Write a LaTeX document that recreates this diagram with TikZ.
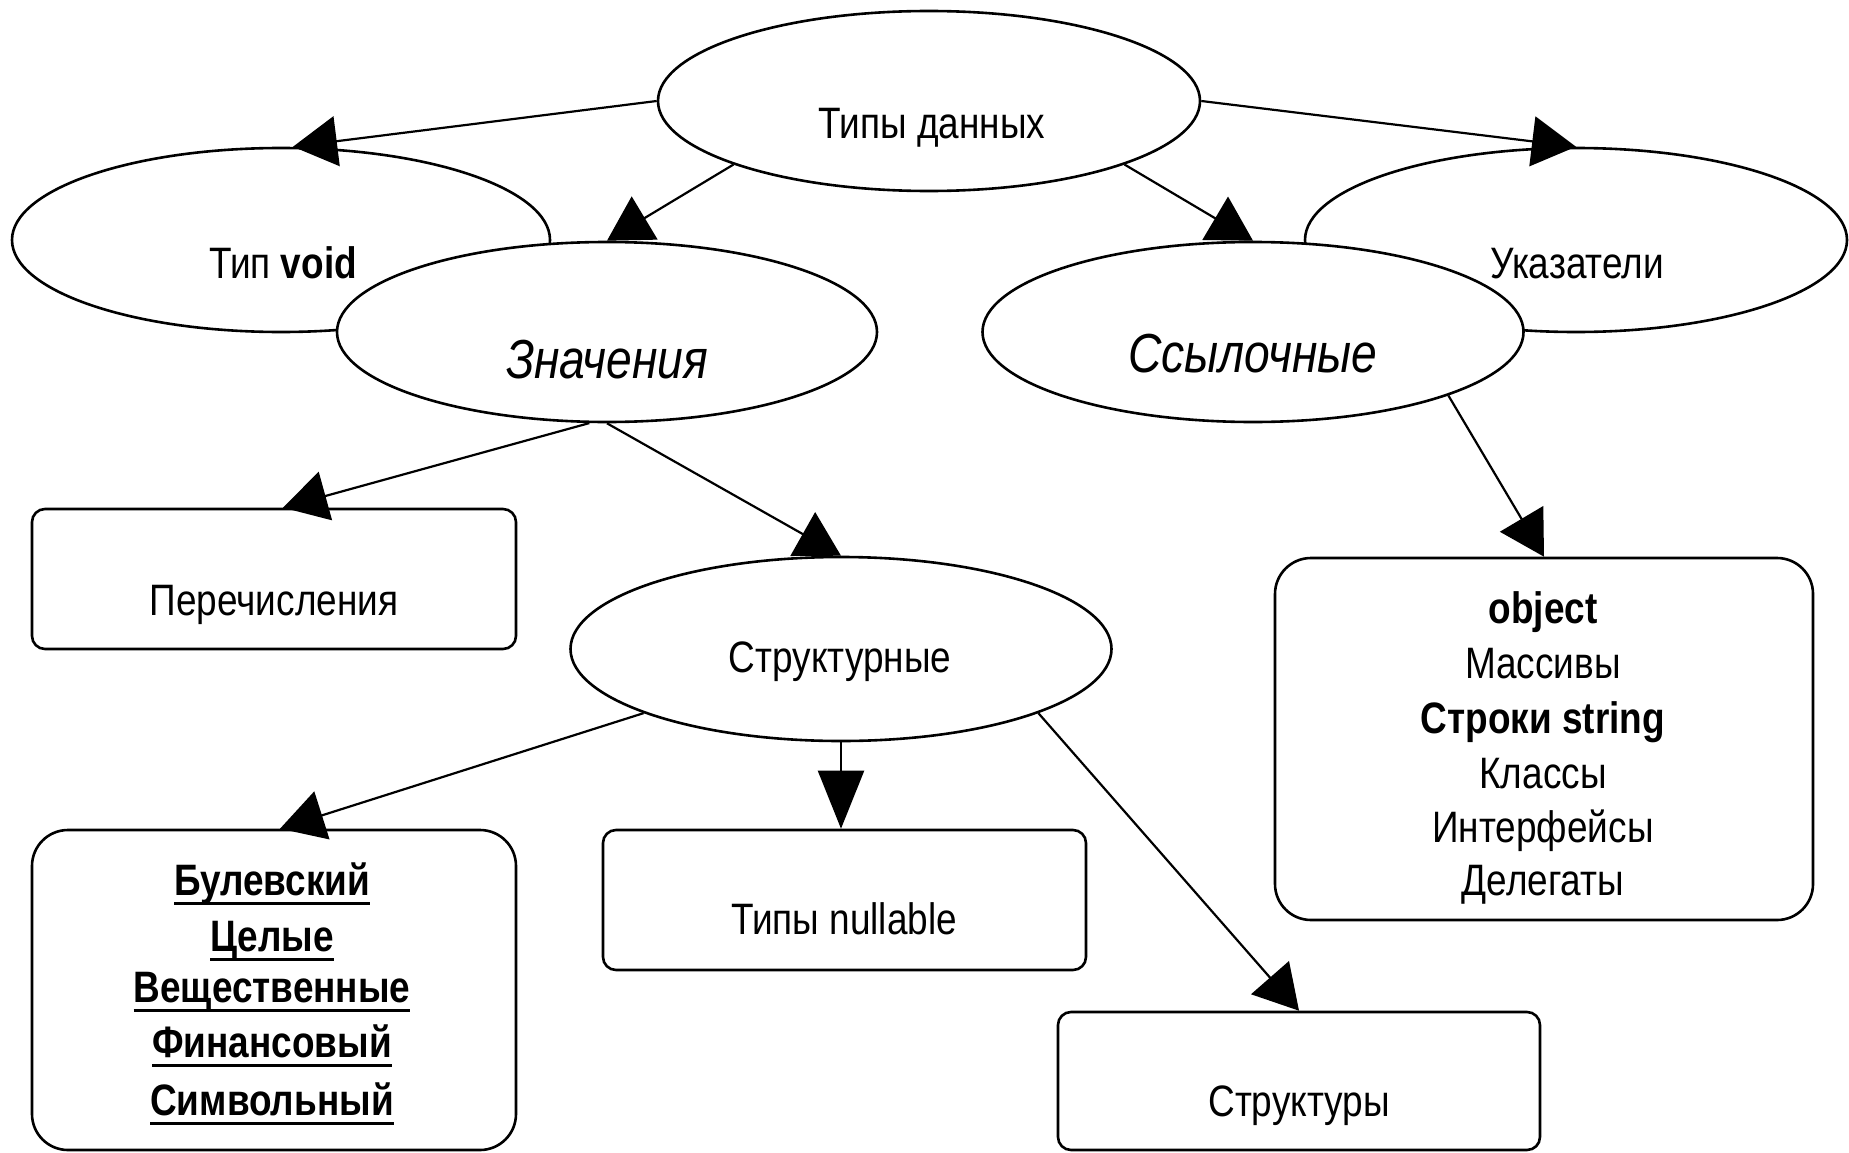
\documentclass[tikz,border=0pt]{standalone}
\usepackage{fontspec}
\newfontfamily\nf{Liberation Sans}[FakeStretch=0.84]
\usetikzlibrary{shapes.geometric,arrows.meta,calc}
\newcommand\myul[1]{\setbox0\hbox{#1}\rlap{\rule[-9.5pt]{\wd0}{3pt}}\box0}
\begin{document}
\begin{tikzpicture}[x=1pt,y=-1pt,
  ell/.style={ellipse, draw, line width=2.6pt, fill=white, inner sep=0pt},
  box/.style={rectangle, draw, line width=2.6pt, fill=white, inner sep=0pt},
  lbl/.style={font=\nf\fontsize{44}{53}\selectfont, inner sep=0pt, anchor=base},
  ilbl/.style={font=\nf\itshape\fontsize{55}{60}\selectfont, inner sep=0pt, anchor=base},
  blbl/.style={font=\nf\bfseries\fontsize{44}{53}\selectfont, inner sep=0pt, anchor=base},
  arr/.style={line width=2.2pt, -{Triangle[length=44pt,width=50pt]}}]
\fill[white] (0,0) rectangle (1849,1153);
\useasboundingbox (0,0) rectangle (1849,1153);

% ellipses (back ones first)
\node[ell, minimum width=542pt, minimum height=180pt] (td) at (929,101) {};
\node[ell, minimum width=538pt, minimum height=184pt] (void) at (281,240) {};
\node[ell, minimum width=542pt, minimum height=184pt] (ukaz) at (1576,240) {};
\node[ell, minimum width=540pt, minimum height=180pt] (zn) at (607,332) {};
\node[ell, minimum width=541pt, minimum height=180pt] (ssyl) at (1253,332) {};
\node[ell, minimum width=541pt, minimum height=184pt] (strukt) at (841,649) {};

% boxes
\node[box, rounded corners=13pt, minimum width=484pt, minimum height=140pt] (perech) at (274,579) {};
\node[box, rounded corners=36pt, minimum width=484pt, minimum height=320pt] (bool) at (274,990) {};
\node[box, rounded corners=13pt, minimum width=483pt, minimum height=140pt] (nullable) at (844.5,900) {};
\node[box, rounded corners=13pt, minimum width=482pt, minimum height=138pt] (struktury) at (1299,1081) {};
\node[box, rounded corners=36pt, minimum width=538pt, minimum height=362pt] (obj) at (1544,739) {};

% labels
\node[lbl] (tdt) at (932,139) {Типы данных};
\node[lbl] (voidt) at (283,278) {Тип \textbf{void}};
\node[lbl] (ukazt) at (1577,278) {Указатели};
\node[ilbl] (znt) at (607,378) {Значения};
\node[ilbl] (ssylt) at (1253,372) {Ссылочные};
\node[lbl] (percht) at (274,615) {Перечисления};
\node[lbl] (struktt) at (840,672) {Структурные};
\node[lbl] (nullt) at (844,934) {Типы nullable};
\node[lbl] (strt) at (1299,1116) {Структуры};

\node[blbl] (o1) at (1543,623) {object};
\node[lbl]  (o2) at (1543,678) {Массивы};
\node[blbl] (o3) at (1543,733) {Строки string};
\node[lbl]  (o4) at (1543,788) {Классы};
\node[lbl]  (o5) at (1543,842) {Интерфейсы};
\node[lbl]  (o6) at (1543,895) {Делегаты};

\node[blbl] (b1) at (272,895) {\myul{Булевский}};
\node[blbl] (b2) at (272,951) {\myul{Целые}};
\node[blbl] (b3) at (272,1002) {\myul{Вещественные}};
\node[blbl] (b4) at (272,1057) {\myul{Финансовый}};
\node[blbl] (b5) at (272,1115) {\myul{Символьный}};

% connectors
\draw[arr] (td.west) -- ($(void.north)+(12,0)$);
\draw[arr] (td.198) -- (zn.north);
\draw[arr] (td.342) -- (ssyl.north);
\draw[arr] (td.east) -- (ukaz.north);
\draw[arr] (zn.259) -- ($(perech.north)+(9,0)$);
\draw[arr] (zn.south) -- (strukt.north);
\draw[arr] (strukt.198) -- ($(bool.north)+(6,0)$);
\draw[line width=2.2pt, -{Triangle[length=58pt,width=46pt]}] (strukt.south) -- (strukt.south |- nullable.north);
\draw[arr] (strukt.342) -- (struktury.north);
\draw[arr] (ssyl.342) -- (obj.north);
\end{tikzpicture}
\end{document}
